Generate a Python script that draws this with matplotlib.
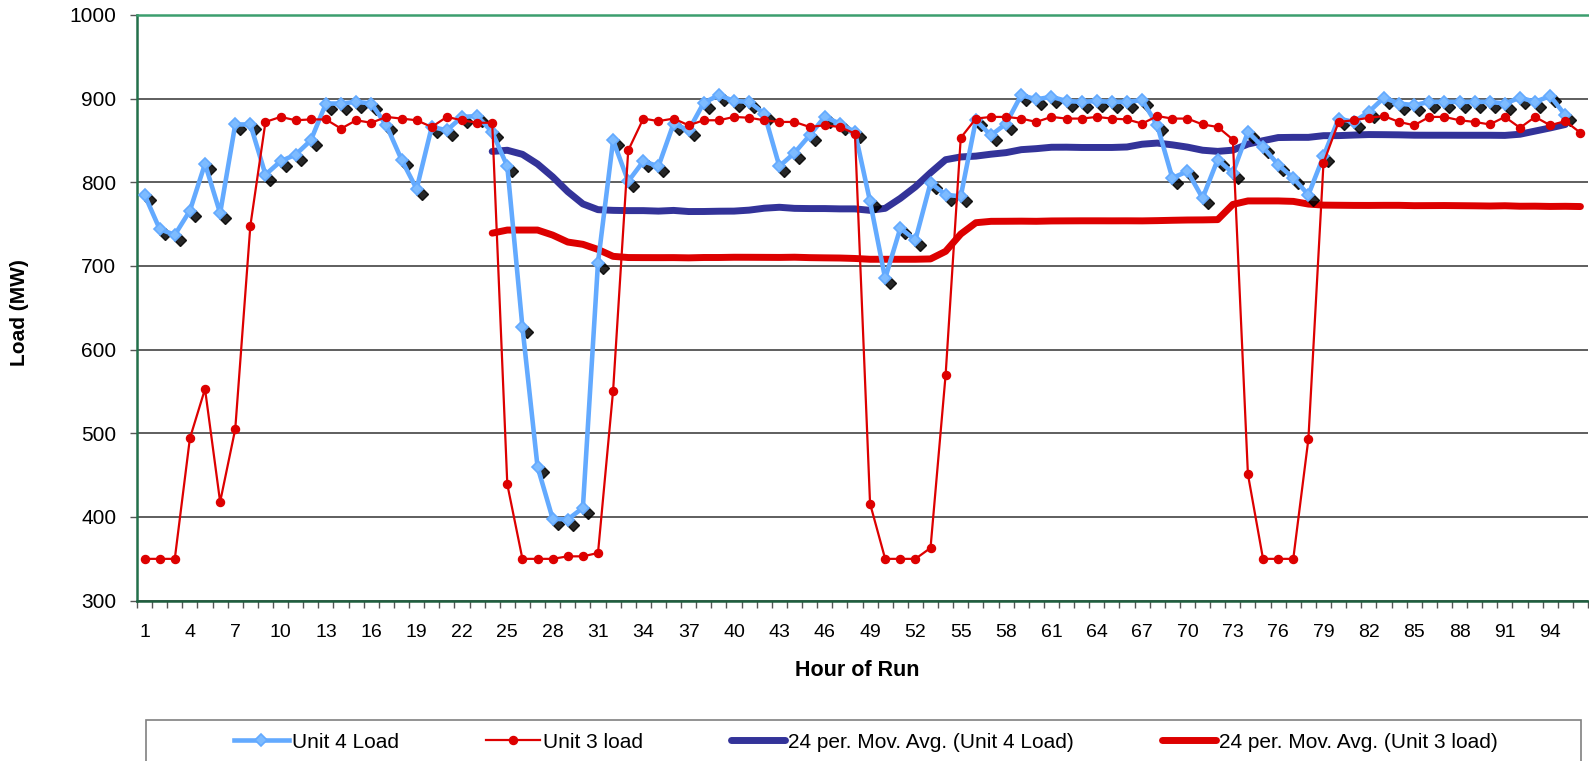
import matplotlib
matplotlib.use('Agg')
import matplotlib.pyplot as plt
import matplotlib.transforms as mtransforms
from matplotlib.patches import Rectangle
import pandas as pd

plt.rcParams['font.family'] = ['Liberation Sans', 'DejaVu Sans']

# ---------------- data ----------------
hours_u4 = list(range(1, 96))
unit4_load = [785, 744, 737, 766, 822, 763, 869, 869, 809, 825,
              833, 850, 894, 894, 896, 894, 868, 827, 792, 866,
              862, 878, 879, 860, 819, 627, 460, 398, 397, 411,
              704, 850, 801, 825, 819, 870, 862, 895, 904, 897,
              896, 882, 819, 835, 856, 878, 870, 860, 777, 685,
              745, 731, 799, 785, 783, 874, 856, 870, 904, 899,
              902, 897, 896, 897, 896, 896, 898, 868, 805, 813,
              781, 827, 811, 860, 842, 821, 805, 785, 831, 876,
              872, 884, 901, 894, 892, 896, 896, 896, 896, 896,
              894, 901, 896, 903, 880]

hours_u3 = list(range(1, 97))
unit3_load = [350, 350, 350, 494, 553, 418, 505, 748, 872, 878,
              874, 875, 875, 864, 874, 871, 878, 876, 874, 866,
              878, 874, 871, 871, 439, 350, 350, 350, 353, 353,
              357, 551, 838, 876, 873, 876, 868, 874, 874, 878,
              877, 874, 872, 872, 866, 868, 866, 858, 416, 350,
              350, 350, 363, 570, 853, 876, 878, 878, 876, 872,
              878, 876, 876, 878, 876, 875, 870, 879, 876, 876,
              869, 866, 851, 451, 350, 350, 350, 493, 823, 872,
              874, 877, 879, 872, 868, 878, 878, 874, 872, 869,
              878, 865, 878, 868, 873, 859]

ma_window = 24
x_tick_positions = list(range(1, 97, 3))
x_tick_labels = [str(h) for h in x_tick_positions]
y_ticks = list(range(300, 1001, 100))

series_names = ["Unit 4 Load", "Unit 3 load",
                "24 per. Mov. Avg. (Unit 4 Load)", "24 per. Mov. Avg. (Unit 3 load)"]

# moving-average trendlines (as in the spreadsheet trendline)
ma4 = pd.Series(unit4_load).rolling(ma_window).mean()
ma3 = pd.Series(unit3_load).rolling(ma_window).mean()

# ---------------- figure ----------------
W, H = 1589, 761
fig = plt.figure(figsize=(W / 100, H / 100), dpi=100)
left, right, top, bottom = 137, 1588, 14.8, 600.7
ax = fig.add_axes([left / W, 1 - bottom / H, (right - left) / W, (bottom - top) / H])

c_blue = '#63AAFF'
c_red = '#DD0000'
c_navy = '#333399'

ln_ma4, = ax.plot(hours_u4, ma4, color=c_navy, lw=5.0, zorder=2,
                  solid_capstyle='round', label=series_names[2])
ln_ma3, = ax.plot(hours_u3, ma3, color=c_red, lw=5.0, zorder=2,
                  solid_capstyle='round', label=series_names[3])

shadow = mtransforms.offset_copy(ax.transData, fig=fig, x=5, y=-5, units='dots')
ax.plot(hours_u4, unit4_load, ls='none', marker='D', ms=6.5, color='black',
        alpha=0.85, transform=shadow, zorder=3)
ln_u4, = ax.plot(hours_u4, unit4_load, color=c_blue, lw=3.3, marker='D', ms=6.5,
                 mfc='#7DBBFF', mec=c_blue, mew=1.2, zorder=4, label=series_names[0])
ln_u3, = ax.plot(hours_u3, unit3_load, color=c_red, lw=1.6, marker='o', ms=5.8,
                 mec=c_red, mfc=c_red, zorder=5, label=series_names[1])

ax.set_xlim(0.5, 96.5)
ax.set_ylim(300, 1000)
ax.set_yticks(y_ticks)
ax.set_yticklabels([str(v) for v in y_ticks], fontsize=15)
ax.set_xticks(x_tick_positions)
ax.set_xticklabels(x_tick_labels, fontsize=14)
ax.set_xticks([i + 0.5 for i in range(0, 97)], minor=True)
ax.tick_params(axis='x', which='major', length=0, pad=17)
ax.tick_params(axis='x', which='minor', length=5, color='#555555', width=1)
ax.tick_params(axis='y', which='major', length=5, color='#555555', width=1, pad=10)

ax.grid(axis='y', color='#333333', lw=1.1, zorder=1)
ax.set_axisbelow(True)
ax.spines['right'].set_visible(False)
ax.spines['top'].set_color('#3C9E6E')
ax.spines['top'].set_linewidth(1.8)
ax.spines['left'].set_color('#23704A')
ax.spines['left'].set_linewidth(1.8)
ax.spines['bottom'].set_color('#1E5E3E')
ax.spines['bottom'].set_linewidth(1.8)

fig.text(20 / W, 1 - 313 / H, "Load (MW)", rotation=90, fontsize=15,
         fontweight='bold', ha='center', va='center')
fig.text(857 / W, 1 - 670 / H, "Hour of Run", fontsize=15.5,
         fontweight='bold', ha='center', va='center')

# legend box
fig.patches.append(Rectangle((146 / W, -0.05), (1581 - 146) / W, 0.05 + 1 - 720 / H,
                             transform=fig.transFigure, fill=False,
                             edgecolor='#808080', lw=1.2))
leg = fig.legend(handles=[ln_u4, ln_u3, ln_ma4, ln_ma3], loc='center',
                 bbox_to_anchor=(866 / W, 1 - 742 / H), ncol=4, frameon=False,
                 fontsize=15, handlelength=2.6, handletextpad=0.15,
                 columnspacing=4.2, borderpad=0, markerscale=1.0)

fig.savefig('out.png', dpi=100)
